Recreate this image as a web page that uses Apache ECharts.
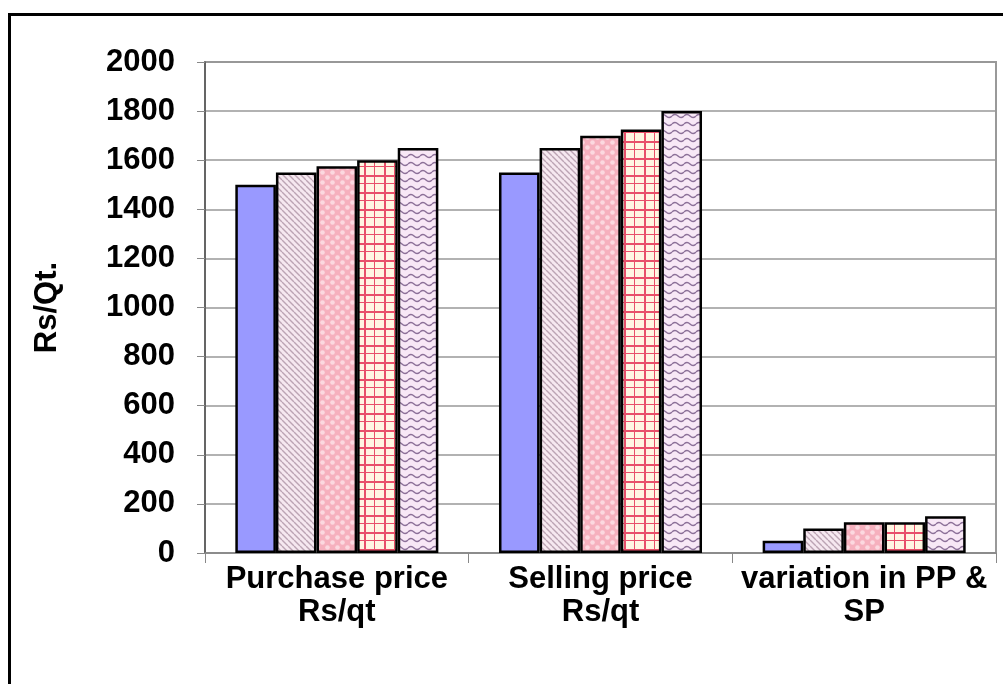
<!DOCTYPE html>
<html>
<head>
<meta charset="utf-8">
<script src="https://cdn.jsdelivr.net/npm/echarts@6/dist/echarts.min.js"></script>
<style>
  html, body { margin: 0; padding: 0; background: #fff; }
  #frame { position: absolute; left: 8px; top: 13px; width: 1000px; height: 700px; border-left: 3px solid #000; border-top: 3px solid #000; box-sizing: border-box; }
  #chart { position: absolute; left: 0; top: 0; width: 1003px; height: 684px; }
</style>
</head>
<body>
<div id="frame"></div>
<div id="chart"></div>
<script>
// Categories and the five yearly series (Rs/Qt.)
const categories = ['Purchase price\nRs/qt', 'Selling price\nRs/qt', 'variation in PP &\nSP'];
const series1 = [1500, 1550, 50];
const series2 = [1550, 1650, 100];
const series3 = [1575, 1700, 125];
const series4 = [1600, 1725, 125];
const series5 = [1650, 1800, 150];
const yTicks = [0, 200, 400, 600, 800, 1000, 1200, 1400, 1600, 1800, 2000];

// Fill patterns for the hatched bars
function makeTile(w, h, draw) {
  const c = document.createElement('canvas');
  c.width = w; c.height = h;
  draw(c.getContext('2d'), w, h);
  return c;
}
const diagTile = makeTile(6, 6, (g, w, h) => {
  g.fillStyle = '#f6e8f0'; g.fillRect(0, 0, w, h);
  g.strokeStyle = '#bca4b4'; g.lineWidth = 1.4;
  for (let k = -w; k <= w; k += 6) {
    g.beginPath(); g.moveTo(k, 0); g.lineTo(k + h, h); g.stroke();
  }
});
const dotTile = makeTile(10, 10, (g, w, h) => {
  g.fillStyle = '#f6b0be'; g.fillRect(0, 0, w, h);
  g.fillStyle = '#fcd8e0';
  [[2.5, 2.5], [7.5, 7.5]].forEach(([x, y]) => { g.beginPath(); g.arc(x, y, 2.3, 0, Math.PI * 2); g.fill(); });
});
const plaidTile = makeTile(20, 17, (g, w, h) => {
  g.fillStyle = '#fff6e2'; g.fillRect(0, 0, w, h);
  g.fillStyle = '#e8506a';
  g.fillRect(4, 0, 2, h); g.fillRect(14, 0, 1, h);
  g.fillRect(0, 5, w, 2); g.fillRect(0, 13, w, 1);
});
const waveTile = makeTile(12, 8, (g, w, h) => {
  g.fillStyle = '#f8e8f6'; g.fillRect(0, 0, w, h);
  g.strokeStyle = '#8c7098'; g.lineWidth = 1.4;
  g.beginPath();
  g.moveTo(0, 4);
  g.quadraticCurveTo(3, 1, 6, 4);
  g.quadraticCurveTo(9, 7, 12, 4);
  g.stroke();
});

const chart = echarts.init(document.getElementById('chart'), null, { renderer: 'canvas' });
const fills = [
  '#9999ff',
  { image: diagTile, repeat: 'repeat' },
  { image: dotTile, repeat: 'repeat' },
  { image: plaidTile, repeat: 'repeat' },
  { image: waveTile, repeat: 'repeat' }
];
const data = [series1, series2, series3, series4, series5];
const font = 'Liberation Sans, Arial';

chart.setOption({
  animation: false,
  backgroundColor: 'transparent',
  grid: { left: 205, right: 7, top: 62, bottom: 131, show: true, borderColor: '#999', borderWidth: 2, backgroundColor: 'transparent' },
  xAxis: {
    type: 'category',
    data: categories,
    axisLine: { lineStyle: { color: '#888', width: 1.5 } },
    axisTick: { show: true, length: 10, lineStyle: { color: '#888' } },
    axisLabel: { interval: 0, color: '#000', fontFamily: font, fontWeight: 'bold', fontSize: 31, lineHeight: 33, margin: 10 }
  },
  yAxis: {
    type: 'value',
    min: 0, max: 2000, interval: 200,
    name: 'Rs/Qt.',
    nameLocation: 'middle',
    nameGap: 142,
    nameRotate: 90,
    nameTextStyle: { color: '#000', fontFamily: font, fontWeight: 'bold', fontSize: 31 },
    axisLine: { show: true, lineStyle: { color: '#555', width: 1.5 } },
    axisTick: { show: true, length: 8, lineStyle: { color: '#888' } },
    splitLine: { lineStyle: { color: '#999', width: 1.5 } },
    axisLabel: {
      color: '#000', fontFamily: font, fontWeight: 'bold', fontSize: 31, margin: 30,
      formatter: v => (yTicks.includes(v) ? String(v) : '')
    }
  },
  series: data.map((vals, i) => ({
    type: 'bar',
    data: vals,
    barGap: '0%',
    barCategoryGap: '23%',
    itemStyle: { color: fills[i], borderColor: '#000', borderWidth: 2.5 }
  }))
});
</script>
</body>
</html>
